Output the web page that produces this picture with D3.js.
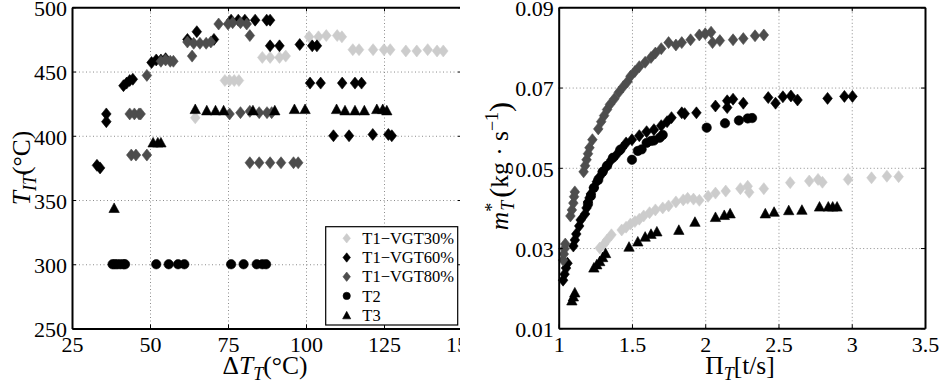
<!DOCTYPE html>
<html><head><meta charset="utf-8">
<script src="https://cdn.jsdelivr.net/npm/d3@7"></script>
<style>body{margin:0;background:#fff;}</style></head><body>
<svg id="c" width="941" height="385" font-family="Liberation Serif"></svg>
<script>
// ---------- tick labels ----------
const leftXTicks = [25, 50, 75, 100, 125, 150];
const leftYTicks = [250, 300, 350, 400, 450, 500];
const rightXTicks = [1, 1.5, 2, 2.5, 3, 3.5];
const rightXTickLabels = ["1", "1.5", "2", "2.5", "3", "3.5"];
const rightYTicks = [0.01, 0.03, 0.05, 0.07, 0.09];
const rightYTickLabels = ["0.01", "0.03", "0.05", "0.07", "0.09"];
const seriesNames = ["T1\u2212VGT30%", "T1\u2212VGT60%", "T1\u2212VGT80%", "T2", "T3"];

// ---------- left panel: [ΔT_T, T_IT] ----------
const leftVGT30 = [[64.5,414],[74,443],[75.5,443],[77,443],[78.5,443],[86,461],[88.5,461],[91.5,461],[93.5,462],
  [101,477],[104,477],[106.5,478],[110,478],[111.5,477],[115,467],[117,467],[121.5,467],[125,467],[127,467],
  [132,466],[135.5,466],[139,467],[142,466],[144,466]];
const leftVGT60 = [[33,377],[34,375],[36,417],[36,411],[41.5,439],[42.5,441],[43.5,443],[44.5,444],
  [50.5,457],[52,459],[53.5,459],[55,460],[62,475],[65,481],[70.5,475],
  [76,490],[78.3,490],[80.4,490],[83.7,490],[87.4,490],[88.5,490],
  [88.5,470],[91.5,470],[98,471],[102,470],[103.5,470],
  [101.3,441],[104.7,441],[111.6,441],[115.7,441],[117.8,441],
  [108.8,400],[113.8,400],[121.4,401],[126.4,401],[127.5,400]];
const leftVGT80 = [[44,385],[45.5,385],[49,385],[43.5,417],[45,417],[46.5,417],[47,417],[49,447],
  [53.5,458],[55,459],[56.5,458],[57.5,458],[62,473],[64,472],[66,472],[68,472],[69.5,473],[63.5,462],
  [72,487],[75,487],[76.5,488],[79,488],[81,487],[82,478],
  [75.5,417],[79,418],[82,419],[85,418],[87.5,418],[89,418],
  [82,379],[85,379],[88.5,379],[92,379],[96,379],[97.5,379]];
const leftT2 = [[38,300],[38.7,300],[39.5,300],[40.5,300],[41.5,300],[42,300],[52,300],[56,300],[59,300],[61,300],
  [76,300],[80,300],[84.2,300],[86,300],[87.2,300]];
const leftT3 = [[38.5,344],[51,395],[52.5,395],[53.5,395],[64.5,421],[68.2,420],[71,420],[73.6,420],[83,420],
  [90,420],[96.3,421],[99.7,421],[109.8,421],[112.5,420],[115.7,420],[118.7,420],[122.7,421],[124.6,421],[125.9,420]];

// ---------- right panel: [Π_T, m*_T] ----------
const rightVGT30 = [[1.28,0.0300],[1.31,0.0310],[1.33,0.0320],[1.36,0.0333],[1.43,0.0345],[1.46,0.0352],[1.49,0.0360],
  [1.52,0.0366],[1.55,0.0372],[1.58,0.0380],[1.62,0.0388],[1.66,0.0395],[1.71,0.0400],[1.75,0.0405],[1.80,0.0415],
  [1.85,0.0420],[1.88,0.0424],[1.92,0.0422],[1.96,0.0419],[2.02,0.0429],[2.07,0.0437],[2.14,0.0442],[2.24,0.0448],
  [2.29,0.0454],[2.30,0.0439],[2.40,0.0448],[2.58,0.0463],[2.71,0.0467],[2.77,0.0471],[2.80,0.0464],[2.975,0.0471],
  [3.135,0.0475],[3.24,0.0479],[3.32,0.0478]];
const rightVGT60 = [[1.03,0.0220],[1.04,0.0235],[1.05,0.0250],[1.06,0.0262],[1.10,0.0305],[1.11,0.0320],[1.12,0.0335],
  [1.14,0.0355],[1.15,0.0370],[1.18,0.0385],[1.19,0.0400],[1.20,0.0415],[1.21,0.0425],[1.22,0.0435],[1.24,0.0450],
  [1.26,0.0465],[1.28,0.0478],[1.30,0.0490],[1.33,0.0505],[1.36,0.0520],[1.40,0.0535],[1.43,0.0548],[1.46,0.0562],
  [1.50,0.0570],[1.55,0.0580],[1.60,0.0590],[1.65,0.0595],[1.70,0.0605],[1.74,0.0615],[1.77,0.0625],[1.84,0.0637],
  [1.86,0.0635],[1.94,0.0637],[2.07,0.0654],[2.15,0.0650],[2.15,0.0667],[2.19,0.0671],[2.26,0.0661],[2.43,0.0675],
  [2.48,0.0661],[2.53,0.0677],[2.585,0.0679],[2.63,0.0669],[2.835,0.0673],[2.95,0.0678],[3.005,0.0678]];
const rightVGT80 = [[1.03,0.0270],[1.035,0.0285],[1.04,0.0298],[1.045,0.0310],[1.08,0.0380],[1.09,0.0395],[1.10,0.0412],
  [1.105,0.0428],[1.11,0.0440],[1.17,0.0490],[1.18,0.0505],[1.19,0.0520],[1.20,0.0535],[1.21,0.0550],[1.23,0.0570],
  [1.27,0.0597],[1.29,0.0615],[1.31,0.0630],[1.33,0.0645],[1.35,0.0658],[1.38,0.0672],[1.41,0.0688],[1.44,0.0702],
  [1.47,0.0715],[1.49,0.0728],[1.52,0.0740],[1.55,0.0752],[1.59,0.0763],[1.63,0.0775],[1.66,0.0786],[1.70,0.0797],
  [1.75,0.0812],[1.80,0.0806],[1.84,0.0812],[1.90,0.0819],[1.96,0.0831],[2.00,0.0834],[2.04,0.0838],[2.05,0.0812],
  [2.10,0.0817],[2.19,0.0819],[2.26,0.0822],[2.34,0.0829],[2.40,0.0831]];
const rightT2 = [[1.20,0.0410],[1.22,0.0430],[1.24,0.0450],[1.27,0.0470],[1.30,0.0490],[1.33,0.0505],[1.37,0.0525],
  [1.42,0.0545],[1.50,0.0520],[1.54,0.0542],[1.566,0.0546],[1.60,0.0562],[1.63,0.0567],[1.65,0.0568],[1.69,0.0575],
  [1.71,0.0582],[2.01,0.0600],[2.135,0.0611],[2.23,0.0618],[2.29,0.0623],[2.32,0.0624]];
const rightT3 = [[1.09,0.0170],[1.10,0.0180],[1.11,0.0190],[1.24,0.0252],[1.26,0.0260],[1.28,0.0268],[1.30,0.0278],
  [1.32,0.0288],[1.48,0.0304],[1.54,0.0317],[1.59,0.0329],[1.63,0.0336],[1.67,0.0342],[1.82,0.0346],[1.93,0.0366],
  [2.07,0.0378],[2.13,0.0383],[2.17,0.0387],[2.41,0.0387],[2.47,0.0391],[2.57,0.0395],[2.66,0.0396],[2.78,0.0404],
  [2.84,0.0404],[2.87,0.0404],[2.90,0.0404]];

// ---------- styles ----------
const FONT = "Liberation Serif";
const LAB = 25.5, SUB = 18;
const LIGHT = "#cccccc", DARK = "#4d4d4d", BLACK = "#000000";
const seriesStyle = [
  {shape:"diamond", color:LIGHT},
  {shape:"diamond", color:BLACK},
  {shape:"diamond", color:DARK},
  {shape:"circle", color:BLACK},
  {shape:"triangle", color:BLACK}
];

function markerPath(shape, s) {
  if (shape === "diamond") { const w = 4.8*s, h = 6*s; return `M0,${-h}L${w},0L0,${h}L${-w},0Z`; }
  if (shape === "triangle") { const w = 5.2*s, h = 4.8*s; return `M0,${-h}L${w},${h}L${-w},${h}Z`; }
  const r = 4.7*s; return `M${r},0A${r},${r} 0 1,1 ${-r},0A${r},${r} 0 1,1 ${r},0Z`;
}

const svg = d3.select("#c");
svg.append("rect").attr("width",941).attr("height",385).attr("fill","#fff");

function mkText(parent) {
  return parent.append("text").attr("font-family", FONT).attr("fill", "#000");
}
function richText(sel, parts) {
  parts.forEach(p => {
    const t = sel.append("tspan").text(p.t).attr("font-size", p.size || LAB).attr("font-family", FONT);
    if (p.italic) t.attr("font-style","italic");
    if (p.dy) t.attr("dy", p.dy);
    if (p.dx) t.attr("dx", p.dx);
  });
}

function panel(g, x, y, xt, xtl, yt, ytl, datasets) {
  const [x0, x1] = x.range(), [y0, y1] = y.range();
  const W = x1 - x0, H = y0 - y1;
  const gridX = g.append("g").attr("transform",`translate(0,${y0})`)
    .call(d3.axisBottom(x).tickValues(xt.slice(1,-1)).tickSize(-H).tickFormat(""));
  const gridY = g.append("g").attr("transform",`translate(${x0},0)`)
    .call(d3.axisLeft(y).tickValues(yt.slice(1,-1)).tickSize(-W).tickFormat(""));
  [gridX, gridY].forEach(a => {
    a.select(".domain").remove();
    a.selectAll("line").attr("stroke","#8c8c8c").attr("stroke-width",1).attr("stroke-dasharray","1,2.5");
  });
  datasets.forEach((d, i) => {
    const st = seriesStyle[i];
    g.append("g").selectAll("path").data(d).join("path")
      .attr("transform", p => `translate(${x(p[0])},${y(p[1])})`)
      .attr("d", markerPath(st.shape, 1))
      .attr("fill", st.color).attr("stroke", st.color).attr("stroke-width", 0.6);
  });
  const ax = [
    g.append("g").attr("transform",`translate(0,${y0})`)
      .call(d3.axisBottom(x).tickValues(xt).tickFormat((d,i)=>xtl[i]).tickSize(-4).tickSizeOuter(0).tickPadding(8)),
    g.append("g").attr("transform",`translate(${x0},0)`)
      .call(d3.axisLeft(y).tickValues(yt).tickFormat((d,i)=>ytl[i]).tickSize(-4).tickSizeOuter(0).tickPadding(5)),
    g.append("g").attr("transform",`translate(0,${y1})`)
      .call(d3.axisTop(x).tickValues(xt).tickFormat("").tickSize(-4).tickSizeOuter(0)),
    g.append("g").attr("transform",`translate(${x1},0)`)
      .call(d3.axisRight(y).tickValues(yt).tickFormat("").tickSize(-4).tickSizeOuter(0))
  ];
  ax.forEach(a => {
    a.attr("font-family", FONT).attr("font-size", 22);
    a.select(".domain").attr("stroke","#000").attr("stroke-width",2);
    a.selectAll(".tick line").attr("stroke","#000").attr("stroke-width",1);
    a.selectAll("text").attr("font-size",22).attr("font-family",FONT).attr("fill","#000");
  });
  ax[1].selectAll("text").attr("dy","0.38em");
}

// ---------- left ----------
svg.append("clipPath").attr("id","lclip").append("rect").attr("x",0).attr("y",0).attr("width",460).attr("height",385);
const gL = svg.append("g").attr("clip-path","url(#lclip)");
const xL = d3.scaleLinear().domain([25,150]).range([72,462]);
const yL = d3.scaleLinear().domain([250,500]).range([328.5,7.3]);
panel(gL, xL, yL, leftXTicks, leftXTicks.map(String), leftYTicks, leftYTicks.map(String),
  [leftVGT30, leftVGT60, leftVGT80, leftT2, leftT3]);

richText(mkText(gL).attr("x",265).attr("y",374).attr("text-anchor","middle"),
  [{t:"\u0394"},{t:"T",italic:true},{t:"T",italic:true,size:SUB,dy:6},{t:"(\u00b0C)",dy:-6}]);
richText(mkText(gL).attr("transform","translate(30,168) rotate(-90)").attr("text-anchor","middle"),
  [{t:"T",italic:true},{t:"IT",italic:true,size:SUB,dy:6},{t:"(\u00b0C)",dy:-6}]);

// legend
const lg = gL.append("g");
lg.append("rect").attr("x",325.7).attr("y",226.7).attr("width",132).attr("height",98.3)
  .attr("fill","#fff").attr("stroke","#000").attr("stroke-width",1.2);
seriesNames.forEach((n, i) => {
  const yy = 238.3 + i*19.2;
  const st = seriesStyle[i];
  lg.append("path").attr("transform",`translate(346.7,${yy})`).attr("d", markerPath(st.shape, 0.78))
    .attr("fill", st.color).attr("stroke", st.color).attr("stroke-width",0.6);
  mkText(lg).attr("x",362.3).attr("y",yy).attr("dy","0.35em").attr("font-size",16.5).text(n);
});

// ---------- right ----------
const gR = svg.append("g");
const xR = d3.scaleLinear().domain([1,3.5]).range([558.7,925]);
const yR = d3.scaleLinear().domain([0.01,0.09]).range([328.3,7.3]);
panel(gR, xR, yR, rightXTicks, rightXTickLabels, rightYTicks, rightYTickLabels,
  [rightVGT30, rightVGT60, rightVGT80, rightT2, rightT3]);

richText(mkText(gR).attr("x",740).attr("y",374).attr("text-anchor","middle"),
  [{t:"\u03a0"},{t:"T",italic:true,size:SUB,dy:6},{t:"[t/s]",dy:-6}]);
richText(mkText(gR).attr("transform","translate(508,166) rotate(-90)").attr("text-anchor","middle"),
  [{t:"m",italic:true},{t:"*",size:SUB,dy:-10},{t:"T",italic:true,size:SUB,dy:16,dx:-8},
   {t:"(",size:30,dy:-4,dx:3},{t:"kg \u00b7 s",dy:-2},{t:"\u22121",size:SUB,dy:-10},{t:")",size:30,dy:12}]);
</script>
</body></html>
